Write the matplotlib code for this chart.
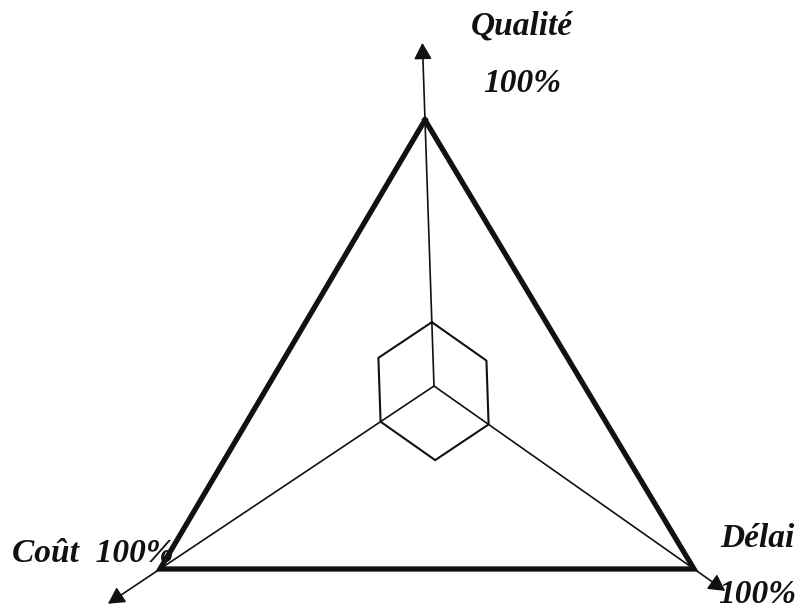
import matplotlib
matplotlib.use("Agg")
import matplotlib.pyplot as plt
import numpy as np

# ---- data ----
categories = ["Qualité", "Délai", "Coût"]
values = [100, 100, 100]          # outer triangle (percent on each axis)
cube_values = [24, 21, 19.5]      # small central cube (percent on each axis)
value_labels = ["100%", "100%", "100%"]

# ---- layout (pixel space of the drawing) ----
W, H = 801, 610
center = np.array([434.0, 386.0])
# position of the 100% mark on each axis (hand-drawn, not perfectly regular)
axis_full = {"Qualité": np.array([425.0, 120.0]),
             "Délai": np.array([694.0, 569.0]),
             "Coût": np.array([160.0, 569.0])}
arrow_ext = {"Qualité": 1.29, "Délai": 1.12, "Coût": 1.19}

def point(cat, v):
    return center + (axis_full[cat] - center) * v / 100.0

fig = plt.figure(figsize=(W / 100, H / 100), dpi=100)
ax = fig.add_axes([0, 0, 1, 1])
ax.set_xlim(0, W)
ax.set_ylim(H, 0)
ax.axis("off")

# axes with arrows
for cat in categories:
    tip = point(cat, 100 * arrow_ext[cat])
    ax.annotate("", xy=tip, xytext=center,
                arrowprops=dict(arrowstyle="-|>,head_length=0.55,head_width=0.3",
                                color="#111111", lw=1.2,
                                mutation_scale=18, shrinkA=0, shrinkB=0))

# outer triangle
tri = np.array([point(c, v) for c, v in zip(categories, values)])
tri = np.vstack([tri, tri[:1]])
ax.plot(tri[:, 0], tri[:, 1], color="#111111", lw=3.8, solid_joinstyle="miter")

# central cube (hexagon outline)
q = point("Qualité", cube_values[0]) - center
d = point("Délai", cube_values[1]) - center
c = point("Coût", cube_values[2]) - center
hexv = np.array([center + q, center + q + d, center + d,
                 center + d + c, center + c, center + c + q, center + q])
ax.plot(hexv[:, 0], hexv[:, 1], color="#111111", lw=1.5)

font = dict(family="Liberation Serif", fontweight="bold", fontstyle="italic",
            fontsize=24, color="#111111")
ax.text(522, 35, categories[0], ha="center", va="baseline", **font)
ax.text(522, 92, value_labels[0], ha="center", va="baseline", **font)
ax.text(757, 547, categories[1], ha="center", va="baseline", **font)
ax.text(757, 603, value_labels[1], ha="center", va="baseline", **font)
ax.text(12, 562, categories[2] + "  " + value_labels[2], ha="left", va="baseline", **font)

fig.savefig("out.png", dpi=100, facecolor="white")
